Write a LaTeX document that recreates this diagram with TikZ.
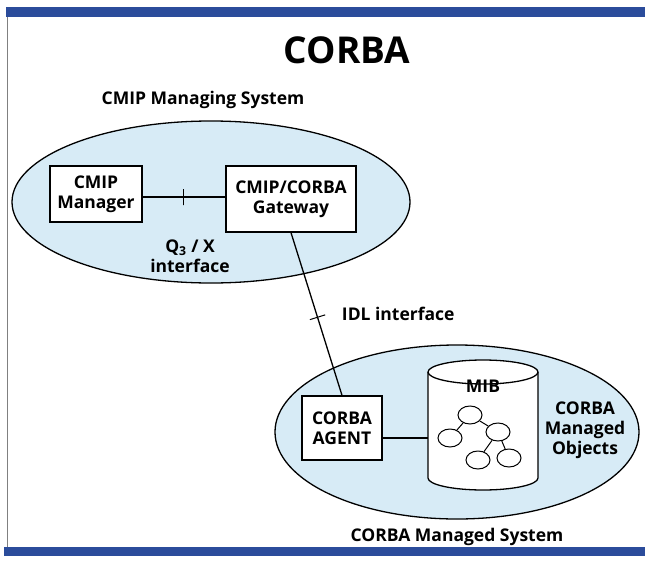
\documentclass[tikz,border=0pt]{standalone}
\usepackage{fontspec}
\setmainfont{Open Sans}
\usetikzlibrary{shapes.geometric}
\definecolor{barblue}{HTML}{2B4C9B}
\definecolor{skyfill}{HTML}{D7EBF6}

\begin{document}
\begin{tikzpicture}[x=1pt, y=-1pt, line width=1.3pt,
  every node/.style={font=\bfseries\fontsize{17.5}{20}\selectfont, align=center},
  sys/.style={ellipse, draw, fill=skyfill, inner sep=0pt},
  box/.style={rectangle, draw, fill=white, inner sep=0pt},
  tk/.style={sloped, draw, minimum width=0pt, minimum height=16pt, inner sep=0pt, line width=1pt},
  obj/.style={ellipse, draw, fill=white, minimum width=24pt, minimum height=18pt, inner sep=0pt, line width=1pt}]
  \useasboundingbox (0,0) rectangle (645,562);
  % frame
  \fill[barblue] (6,7) rectangle (645,17);
  \fill[barblue] (4,547) rectangle (645,556);
  \draw[gray, line width=1pt] (7,17) -- (7,547);
  \node (title) at (347,50) {\fontsize{37}{40}\selectfont CORBA};
  % managing system
  \node (mslabel) at (203,100) {CMIP Managing System};
  \node[sys, minimum width=398pt, minimum height=162pt] (ms) at (211,202) {};
  \node[box, minimum width=92pt, minimum height=56pt] (mgr) at (96,194) {CMIP\\Manager};
  \node[box, minimum width=130pt, minimum height=66pt] (gw) at (291,199) {CMIP/CORBA\\Gateway};
  \draw (mgr.east |- 0,197) -- node[tk, pos=0.49]{} (gw.west |- 0,197);
  \node (q3) at (190,256) {Q$_{\mathbf 3}$ / X\\interface};
  % managed system
  \node[sys, minimum width=364pt, minimum height=174pt] (mo) at (457,432) {};
  \node (mslabel2) at (457,537) {CORBA Managed System};
  \node[box, minimum width=80pt, minimum height=64pt] (ag) at (342,428) {CORBA\\AGENT};
  \draw (gw.south) -- node[tk, pos=0.52]{} (ag.north);
  \node[anchor=west] (idl) at (338,314) {IDL interface};
  % MIB
  \draw[fill=white] (428,372) -- (428,478) arc[start angle=180, end angle=0, x radius=55, y radius=12]
    -- (538,372) arc[start angle=0, end angle=-180, x radius=55, y radius=12] -- cycle;
  \draw (538,372) arc[start angle=0, end angle=180, x radius=55, y radius=12];
  \coordinate (mib) at (428,438);
  \node (mibl) at (483,386) {MIB};
  \draw (ag.east |- mib) -- (mib);
  \node[obj] (o1) at (470,415) {};
  \node[obj] (o2) at (450,438) {};
  \node[obj] (o3) at (498,432) {};
  \node[obj] (o4) at (478,460) {};
  \node[obj] (o5) at (509,458) {};
  \draw[line width=1pt] (o1) -- (o2) (o1) -- (o3) (o3) -- (o4) (o3) -- (o5);
  \node (mo2) at (585,430) {CORBA\\Managed\\Objects};
\end{tikzpicture}
\end{document}
